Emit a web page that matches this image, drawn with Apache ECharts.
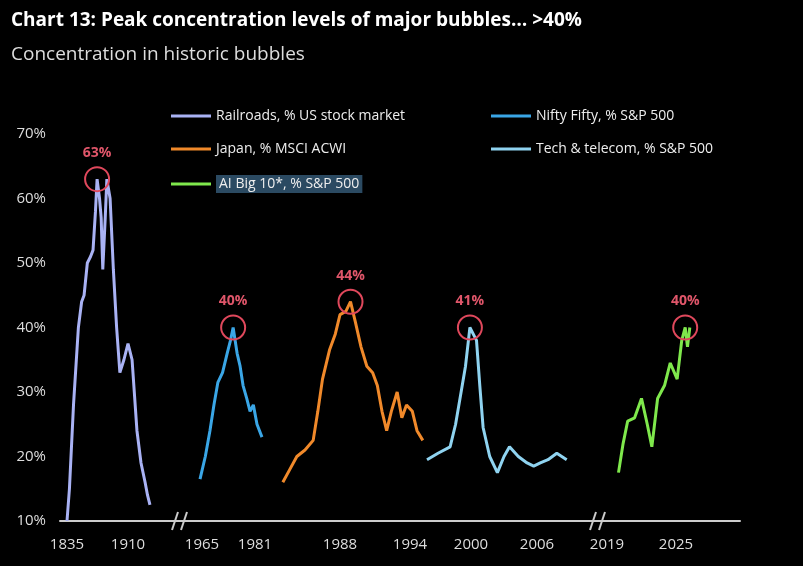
<!DOCTYPE html>
<html><head><meta charset="utf-8">
<script src="https://cdn.jsdelivr.net/npm/echarts@6/dist/echarts.min.js"></script>
<style>html,body{margin:0;background:#000}#c{width:803px;height:566px}</style>
</head><body><div id="c"></div>
<script>
// ---- data ----
const tickYears = [1835,1910,1965,1981,1988,1994,2000,2006,2019,2025];
const railYears = [1835,1838,1843,1849,1853,1856,1860,1864,1867,1870,1872,1875,1877,1879,1882,1884,1888,1892,1896,1900,1905,1910,1915,1921,1926,1931,1934,1937];
const railVals  = [10,15,28,40,44,45,50,51,52,58,63,60,57,49,57,63,60,49,40,33,35,37.5,35,24,19,16,14,12.5];
const niftyYears = [1964.4,1966,1967.4,1968.6,1969.8,1971.2,1972.6,1973.6,1974.4,1975.6,1976.5,1977.4,1978.5,1979.5,1980.5,1981.6,1983.1];
const niftyVals  = [16.5,20,24,28,31.5,33,36,38,40,36,34,31,29,27,28,25,23];
const japanYears = [1983.1,1983.7,1984.3,1985,1985.7,1986.1,1986.5,1987.1,1987.6,1988,1988.5,1988.9,1989.3,1989.8,1990.3,1990.8,1991.2,1991.6,1992,1992.4,1992.9,1993.3,1993.7,1994.2,1994.6,1995.1];
const japanVals  = [16,18,20,21,22.5,27,32,36.5,39,42,42.5,44,41,37,34,33,31,27,24,27,30,26,28,27,24,22.5];
const techYears = [1996,1997,1998.1,1998.6,1999,1999.5,1999.9,2000.5,2000.8,2001.1,2001.7,2002.4,2003,2003.5,2004.3,2005.1,2005.7,2006.3,2007,2007.8,2008.7];
const techVals  = [19.5,20.5,21.5,25,29,34,40,38,31,24.5,20,17.5,20,21.5,20,19,18.5,19,19.5,20.5,19.5];
const aiYears = [2020,2020.4,2020.8,2021.4,2022,2022.5,2022.9,2023.4,2024,2024.5,2025.1,2025.5,2025.8,2026,2026.2];
const aiVals  = [17.5,22,25.5,26,29,25,21.5,29,31,34.5,32,38,40,37,40];
const peaks = [63,40,44,41,40];
const names = ['Railroads, % US stock market','Nifty Fifty, % S&P 500','Japan, % MSCI ACWI','Tech & telecom, % S&P 500','AI Big 10*, % S&P 500'];
const colors = ['#a9b2f4','#3aa6e6','#f0892a','#8fd3f0','#7fe84c'];

// axis segments: [year0, year1, pos0, pos1]
const segs = [[1835,1910,67,128],[1965,1981,202,255],[1988,1994,340,410],[2000,2006,471,537],[2019,2025,607,676]];
function pos(year, s){const g=segs[s];return g[2]+(year-g[0])*(g[3]-g[2])/(g[1]-g[0]);}
const tickSeg = [0,0,1,1,2,2,3,3,4,4];
const tickPos = tickYears.map((y,i)=>pos(y,tickSeg[i]));

const sets = [[railYears,railVals],[niftyYears,niftyVals],[japanYears,japanVals],[techYears,techVals],[aiYears,aiVals]];
const series = sets.map((s,i)=>{
  const data = s[0].map((y,j)=>[pos(y,i),s[1][j]]);
  let mi=0; s[1].forEach((v,j)=>{if(v>s[1][mi])mi=j;});
  return {name:names[i],type:'line',data,symbol:'none',lineStyle:{color:colors[i],width:3},itemStyle:{color:colors[i]},
    markPoint:{symbol:'circle',symbolSize:24,silent:true,
      itemStyle:{color:'rgba(0,0,0,0)',borderColor:'#e0485c',borderWidth:2},
      label:{show:true,position:'top',distance:6,formatter:peaks[i]+'%',color:'#e0566a',fontSize:14,fontWeight:'bold',fontFamily:'Open Sans'},
      data:[{coord:data[mi]}]}};
});

const chart = echarts.init(document.getElementById('c'));
const leg = (left,data)=>({left,top:104,orient:'vertical',itemGap:19,itemWidth:40,itemHeight:3,icon:'rect',
  textStyle:{color:'#eee',fontSize:14,fontFamily:'Open Sans'},data});
chart.setOption({
  backgroundColor:'#000',
  animation:false,
  title:[{text:'Chart 13: Peak concentration levels of major bubbles… >40%',left:6,top:6,
     textStyle:{color:'#fff',fontSize:19,fontWeight:'bold',fontFamily:'Open Sans'}},
     {text:'Concentration in historic bubbles',left:6,top:40,textStyle:{color:'#ddd',fontSize:19,fontWeight:'normal',fontFamily:'Open Sans'}}],
  legend:[leg(166,[names[0],names[2],{name:names[4],textStyle:{backgroundColor:'#2b4a62',padding:[2,3]}}]),leg(486,[names[1],names[3]])],
  grid:{left:60,right:63,top:134,bottom:45},
  xAxis:{type:'value',min:60,max:740,splitLine:{show:false},
    axisLine:{lineStyle:{color:'#ccc',width:2}},axisTick:{show:false},
    axisLabel:{customValues:tickPos,formatter:(v)=>{const k=tickPos.findIndex(p=>Math.abs(p-v)<0.01);return k>=0?tickYears[k]:'';},
      color:'#ddd',fontSize:15,fontFamily:'Open Sans',margin:16}},
  yAxis:{type:'value',min:10,max:70,interval:10,splitLine:{show:false},axisLine:{show:false},axisTick:{show:false},
    axisLabel:{formatter:'{value}%',color:'#ddd',fontSize:15,fontFamily:'Open Sans',margin:14}},
  series
});
// axis break marks
const breaks = [180,598];
const g = [];
breaks.forEach(b=>{
  const p = chart.convertToPixel({xAxisIndex:0},b), yb = chart.convertToPixel({yAxisIndex:0},10);
  g.push({type:'rect',shape:{x:p-9,y:yb-4,width:18,height:8},style:{fill:'#000'}});
  [-5,4].forEach(d=>g.push({type:'line',shape:{x1:p+d-3,y1:yb+9,x2:p+d+3,y2:yb-9},style:{stroke:'#ccc',lineWidth:2}}));
});
chart.setOption({graphic:g});
</script></body></html>
